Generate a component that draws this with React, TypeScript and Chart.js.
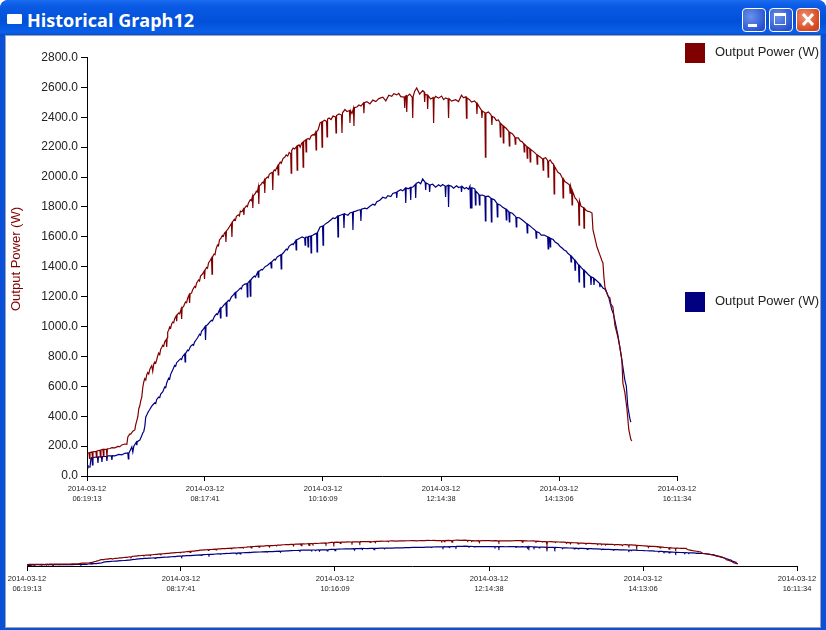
import React, { useEffect, useRef } from 'react';
import Chart from 'chart.js/auto';

const dateLabel = '2014-03-12';
const tickTimes = ['06:19:13', '08:17:41', '10:16:09', '12:14:38', '14:13:06', '16:11:34'];
const yTicks = [0, 200, 400, 600, 800, 1000, 1200, 1400, 1600, 1800, 2000, 2200, 2400, 2600, 2800];
const seriesName = 'Output Power (W)';

// [minutes since 06:19:13, watts]
const redSamples: number[][] = [
  [0, 152], [2, 156], [2.5, 118], [3, 157], [5, 160], [5.5, 122], [6, 162], [9, 165], [9.5, 126], [10, 167],
  [13, 172], [13.5, 128], [14, 174], [16, 178], [16.5, 134], [17, 178], [19.5, 180], [20, 125], [20.5, 182],
  [23, 184], [25, 190], [28, 188], [31, 198], [33, 196], [35, 208], [38, 214], [40, 212], [41, 261], [43, 282],
  [44, 280], [46, 300], [48, 308], [49, 345], [51, 395], [52, 450], [53, 470], [54, 505], [55, 528], [56, 592],
  [57, 629], [58, 652], [59, 642], [60, 678], [61, 692], [62, 682], [63, 712], [64, 728], [65, 738], [66, 700],
  [67, 748], [68, 763], [69, 756], [70, 778], [71, 805], [72, 822], [73, 812], [74, 848], [75, 860], [76, 875],
  [77, 868], [78, 898], [79.5, 912], [80, 863], [80.5, 925], [81, 963], [82, 975], [83, 997], [84, 990], [85, 1018],
  [86, 1030], [87, 1025], [88, 1052], [89.5, 1070], [90, 1035], [90.5, 1078], [92, 1090], [93, 1085], [94.5, 1118],
  [95, 1050], [95.5, 1125], [97, 1135], [98, 1152], [99, 1165], [100, 1160], [101, 1188], [102.5, 1212], [103, 1157],
  [103.5, 1218], [105, 1225], [106, 1244], [108, 1268], [109, 1262], [110, 1290], [112, 1312], [113, 1305], [114, 1338],
  [116, 1352], [117.5, 1370], [118, 1318], [118.5, 1376], [120, 1395], [121, 1390], [122, 1425], [123.5, 1440],
  [125, 1458], [125.5, 1351], [126, 1466], [127.5, 1485], [128.5, 1480], [129.5, 1518], [131, 1545], [132, 1540],
  [133, 1579], [134.5, 1592], [136, 1610], [137, 1605], [138, 1625], [139, 1632], [139.5, 1565], [140, 1640],
  [141.5, 1652], [143, 1668], [145, 1690], [145.5, 1599], [146, 1700], [148, 1718], [149, 1712], [150, 1738],
  [152, 1748], [153, 1740], [154, 1772], [155.5, 1768], [157, 1785], [157.5, 1746], [158, 1790], [160, 1808], [161, 1802],
  [162, 1825], [164, 1848], [165, 1842], [166, 1868], [166.5, 1793], [167, 1875], [169, 1890], [170, 1905], [171, 1900],
  [172, 1933], [172.5, 1820], [173, 1940], [175, 1952], [176, 1965], [177, 1960], [178, 1978], [178.5, 1893], [179, 1985],
  [181, 2000], [182, 1995], [183, 2018], [185, 2028], [186, 2030], [186.5, 1913], [187, 2036], [188, 2048], [189, 2042],
  [191.5, 2075], [192, 2014], [192.5, 2082], [194, 2100], [195, 2092], [197, 2127], [198.5, 2132], [200, 2148], [201.5, 2140],
  [203, 2165], [204.5, 2158], [205, 2027], [205.5, 2178], [207, 2194], [208.5, 2188], [210.5, 2205], [211, 2047], [211.5, 2210],
  [213, 2215], [214, 2200], [215.5, 2226], [216.5, 2232], [217, 2067], [217.5, 2238], [219.5, 2248], [220, 2168], [220.5, 2252],
  [222, 2258], [223.5, 2252], [225, 2275], [227, 2285], [228, 2280], [229.5, 2300], [230, 2181], [230.5, 2304], [232, 2315],
  [234, 2362], [235.5, 2368], [236, 2201], [236.5, 2372], [238.5, 2380], [240.5, 2372], [241, 2268], [241.5, 2388], [243, 2395],
  [245, 2385], [247, 2408], [249.5, 2402], [250, 2295], [250.5, 2412], [253, 2422], [255.5, 2415], [256, 2295], [256.5, 2430],
  [259, 2452], [261, 2438], [263.5, 2445], [264, 2362], [264.5, 2445], [266, 2425], [267.5, 2460], [268, 2342], [268.5, 2465],
  [271, 2469], [273, 2482], [275, 2475], [277.5, 2495], [278, 2428], [278.5, 2498], [281, 2505], [284, 2490], [287, 2515],
  [290, 2505], [293, 2525], [297, 2535], [300, 2510], [303, 2548], [306, 2540], [308, 2558], [311, 2550], [313, 2560], [315, 2538],
  [318.5, 2535], [319, 2462], [319.5, 2540], [320.5, 2545], [321, 2435], [321.5, 2540], [324, 2555], [326.5, 2535], [327, 2395],
  [327.5, 2540], [329, 2575], [331, 2596], [334, 2555], [337, 2578], [338.5, 2570], [339, 2502], [339.5, 2555], [341.5, 2548],
  [342, 2455], [342.5, 2545], [345, 2522], [347.5, 2532], [348, 2362], [348.5, 2525], [350, 2540], [353, 2528], [356, 2542],
  [358, 2518], [360, 2530], [362.5, 2522], [363, 2395], [363.5, 2525], [366, 2508], [370, 2518], [373, 2505], [376, 2548],
  [378, 2530], [380.5, 2538], [381, 2395], [381.5, 2530], [384, 2518], [386, 2502], [389, 2510], [391, 2495], [391.5, 2422],
  [392, 2490], [394, 2468], [396, 2448], [396.5, 2395], [397, 2442], [399.5, 2430], [400, 2134], [400.5, 2428], [403, 2435],
  [405, 2422], [406, 2410], [406.5, 2348], [407, 2405], [409, 2398], [411, 2378], [413, 2382], [414.5, 2365], [415, 2268],
  [415.5, 2358], [417.5, 2345], [418, 2228], [418.5, 2340], [421, 2325], [423.5, 2305], [424, 2208], [424.5, 2300], [427, 2290],
  [429.5, 2268], [430, 2221], [430.5, 2262], [433, 2262], [435, 2242], [437, 2236], [438.5, 2222], [439, 2168], [439.5, 2218],
  [441.5, 2205], [442, 2127], [442.5, 2200], [444.5, 2190], [445, 2101], [445.5, 2185], [448, 2172], [450, 2160], [451.5, 2150],
  [452, 2087], [452.5, 2146], [455, 2134], [457.5, 2120], [458, 2047], [458.5, 2125], [460.5, 2130], [462.5, 2110], [463, 2000],
  [463.5, 2105], [465, 2115], [467, 2094], [468.5, 2085], [469, 1887], [469.5, 2070], [471, 2052], [473, 2030], [475, 2022],
  [477.5, 1990], [478, 1860], [478.5, 1985], [480, 1968], [482, 1960], [484.5, 1947], [485, 1893], [485.5, 1940], [486.5, 1915],
  [487, 1813], [487.5, 1905], [490, 1860], [491.5, 1850], [493.5, 1825], [494, 1679], [494.5, 1840], [496, 1805], [498.5, 1795],
  [499, 1659], [499.5, 1790], [501, 1778], [503, 1770], [505, 1768], [507, 1759], [508, 1646], [510, 1590], [512, 1532], [515, 1478],
  [517, 1440], [518, 1425], [519, 1330], [520, 1264], [523, 1205], [525, 1191], [526, 1150], [528, 1131], [530, 1010], [533, 930],
  [535, 860], [537, 776], [538, 622], [540, 560], [542, 455], [544, 308], [546, 245], [547, 234],
];

const blueSamples: number[][] = [
  [0, 74], [1, 62], [3, 60], [4, 120], [5, 124], [5.5, 74], [6, 124], [10.5, 128], [11, 87], [11.5, 128], [14.5, 130],
  [15, 94], [15.5, 130], [19.5, 132], [20, 100], [20.5, 134], [24.5, 134], [25, 107], [25.5, 136], [28, 135], [32, 144], [35, 142],
  [38, 152], [41, 154], [41.5, 114], [42, 152], [45, 194], [46, 160], [47, 200], [49.5, 227], [50, 207], [50.5, 230], [53, 240],
  [54.5, 262], [56, 288], [57, 298], [58, 330], [59, 395], [60, 408], [61.5, 430], [63, 445], [64.5, 462], [66, 475], [68, 490],
  [69, 485], [70, 512], [72, 528], [73, 524], [74, 548], [76, 562], [78, 595], [79, 590], [80, 622], [82, 655], [83, 650], [84, 680],
  [86, 709], [88, 740], [89, 735], [90, 758], [92, 772], [94, 785], [95, 780], [96, 800], [98, 816], [98.5, 763], [99, 820], [101, 842],
  [102, 838], [104, 868], [106, 880], [107, 875], [108, 896], [110, 915], [111, 925], [113, 948], [114, 942], [115, 968], [117, 985],
  [118.5, 1000], [119, 910], [119.5, 1005], [121, 1012], [123, 1028], [125, 1042], [126, 1038], [128, 1068], [130, 1085], [131, 1080],
  [133.5, 1118], [134, 1057], [134.5, 1122], [136, 1131], [138, 1148], [139.5, 1158], [140, 1070], [140.5, 1162], [142, 1175], [143, 1170],
  [145, 1198], [147, 1212], [148.5, 1225], [149, 1191], [149.5, 1228], [152, 1244], [154, 1258], [155, 1252], [156, 1272], [158, 1282],
  [160.5, 1288], [161, 1198], [161.5, 1292], [163.5, 1308], [164, 1204], [164.5, 1310], [166, 1325], [168, 1338], [169, 1332], [171.5, 1365],
  [172, 1331], [172.5, 1368], [175, 1382], [176, 1378], [179, 1402], [181, 1408], [184.5, 1428], [185, 1392], [185.5, 1432], [188, 1450],
  [189, 1445], [191, 1465], [194.5, 1480], [195, 1385], [195.5, 1482], [197, 1492], [200, 1518], [201, 1512], [203, 1538], [206, 1552],
  [207, 1548], [209.5, 1575], [210, 1512], [210.5, 1580], [214, 1592], [216, 1600], [218.5, 1592], [219, 1545], [219.5, 1598], [221.5, 1600],
  [222, 1532], [222.5, 1602], [224.5, 1605], [225, 1492], [225.5, 1608], [227, 1612], [229, 1620], [230.5, 1625], [231, 1499], [231.5, 1630],
  [234, 1666], [236.5, 1672], [237, 1545], [237.5, 1675], [240, 1690], [242, 1698], [245, 1715], [247, 1726], [249, 1722], [251.5, 1738],
  [252, 1599], [252.5, 1740], [255, 1746], [257.5, 1752], [258, 1659], [258.5, 1755], [260, 1750], [262, 1745], [264, 1760], [266.5, 1765],
  [267, 1646], [267.5, 1768], [270, 1772], [272, 1778], [274.5, 1782], [275, 1706], [275.5, 1785], [279, 1792], [281, 1788], [284, 1805],
  [287, 1818], [289, 1812], [291, 1835], [294, 1845], [297, 1865], [300, 1858], [302, 1876], [305, 1870], [307, 1890], [310.5, 1898],
  [311, 1860], [311.5, 1902], [315, 1915], [317, 1908], [319.5, 1925], [320, 1826], [320.5, 1928], [322.5, 1922], [324.5, 1930], [325, 1846],
  [325.5, 1932], [327, 1933], [329.5, 1950], [330, 1860], [330.5, 1958], [333, 1965], [335, 1955], [337, 1987], [339.5, 1965], [340, 1913],
  [340.5, 1960], [343.5, 1950], [344, 1900], [344.5, 1947], [347, 1952], [350, 1932], [353, 1948], [355, 1938], [357, 1950], [359.5, 1940],
  [360, 1867], [360.5, 1938], [362.5, 1945], [363, 1800], [363.5, 1945], [366, 1938], [368, 1925], [371, 1942], [373, 1930], [375.5, 1935],
  [376, 1900], [376.5, 1938], [379, 1922], [381, 1930], [383, 1918], [384.5, 1940], [385, 1793], [385.5, 1930], [386, 1793], [386.5, 1928],
  [388, 1925], [389.5, 1920], [390, 1813], [390.5, 1905], [393, 1887], [393.5, 1880], [394, 1813], [394.5, 1878], [397, 1880], [399.5, 1872],
  [400, 1706], [400.5, 1870], [403, 1872], [405, 1862], [405.5, 1860], [406, 1700], [406.5, 1855], [409, 1848], [411.5, 1825], [412, 1733],
  [412.5, 1820], [415, 1812], [417, 1800], [420.5, 1785], [421, 1713], [421.5, 1782], [423.5, 1768], [424, 1700], [424.5, 1764], [427, 1758],
  [430.5, 1735], [431, 1666], [431.5, 1730], [434, 1728], [436, 1718], [438, 1708], [441.5, 1688], [442, 1626], [442.5, 1685], [445, 1672],
  [447, 1660], [450.5, 1640], [451, 1592], [451.5, 1635], [454, 1628], [456, 1612], [459, 1612], [462.5, 1600], [463, 1519], [463.5, 1598],
  [464.5, 1595], [465, 1532], [465.5, 1590], [468, 1582], [470, 1565], [473, 1552], [475, 1535], [477, 1525], [479, 1512], [481, 1505],
  [483, 1488], [485.5, 1475], [486, 1432], [486.5, 1470], [488, 1458], [489.5, 1445], [490, 1378], [490.5, 1440], [493.5, 1412], [494, 1298],
  [494.5, 1408], [496.5, 1392], [498.5, 1378], [499, 1264], [499.5, 1375], [503, 1350], [505.5, 1335], [506, 1278], [506.5, 1332], [508.5, 1325],
  [509, 1278], [509.5, 1320], [512, 1305], [514.5, 1290], [515, 1264], [515.5, 1282], [518, 1258], [520, 1250], [522, 1224], [524, 1190],
  [525.5, 1150], [527, 1111], [528.5, 1085], [530, 1040], [533, 943], [535, 860], [537, 776], [540, 642], [541.5, 600], [543, 462], [545, 385],
  [546, 361],
];

const toMinutes = (clock: string) => {
  const [h, m, s] = clock.split(':').map(Number);
  return h * 60 + m + s / 60;
};
const tickMinutes = tickTimes.map(t => toMinutes(t) - toMinutes(tickTimes[0]));
const toPoints = (samples: number[][]) => samples.map(([x, y]) => ({ x, y }));

const uiFont = '"Liberation Sans", Arial, sans-serif';

const xAxis = (height: number) => ({
  type: 'linear' as const,
  min: tickMinutes[0],
  max: tickMinutes[tickMinutes.length - 1],
  grid: { drawOnChartArea: false, drawTicks: true, tickLength: 5, color: '#000' },
  border: { color: '#000', width: 1 },
  ticks: {
    autoSkip: false,
    maxRotation: 0,
    padding: 3,
    color: '#222',
    font: { family: uiFont, size: 7.5, lineHeight: 1.35 },
    callback: (_: unknown, index: number) => [dateLabel, tickTimes[index]],
  },
  afterBuildTicks: (axis: any) => {
    axis.ticks = tickMinutes.map(value => ({ value }));
  },
  afterFit: (axis: any) => {
    axis.height = height;
    axis.paddingLeft = 0;
    axis.paddingRight = 0;
  },
});

const datasets = (width: number) => [
  { data: toPoints(redSamples), borderColor: '#800000', borderWidth: width, pointRadius: 0, tension: 0 },
  { data: toPoints(blueSamples), borderColor: '#000080', borderWidth: width, pointRadius: 0, tension: 0 },
];

const TitleButton = ({ left, close, children }: { left: number; close?: boolean; children: React.ReactNode }) => (
  <div
    style={{
      position: 'absolute', left, top: 8, width: 22, height: 22, borderRadius: 4, border: '1px solid #fff',
      background: close
        ? 'radial-gradient(circle at 35% 35%, #ee9070, #d4461c 75%)'
        : 'radial-gradient(circle at 35% 35%, #6a92ea, #2450d0 80%)',
    }}
  >
    {children}
  </div>
);

const LegendEntry = ({ top, color }: { top: number; color: string }) => (
  <>
    <div style={{ position: 'absolute', left: 685, top, width: 20, height: 20, background: color }} />
    <div
      style={{
        position: 'absolute', left: 715, top: top + 1, lineHeight: '16px', fontFamily: uiFont, fontSize: 13,
        color: '#222', whiteSpace: 'nowrap',
      }}
    >
      {seriesName}
    </div>
  </>
);

const App: React.FC = () => {
  const mainRef = useRef<HTMLCanvasElement>(null);
  const overviewRef = useRef<HTMLCanvasElement>(null);

  useEffect(() => {
    if (!mainRef.current || !overviewRef.current) return;

    const main = new Chart(mainRef.current, {
      type: 'line',
      data: { datasets: datasets(1.2) as any },
      options: {
        animation: false,
        responsive: false,
        devicePixelRatio: 1,
        layout: { padding: { top: 21.5, right: 29, left: 0, bottom: 0 } },
        plugins: { legend: { display: false }, tooltip: { enabled: false } },
        scales: {
          x: xAxis(34) as any,
          y: {
            min: 0,
            max: 2800,
            grid: { drawOnChartArea: false, drawTicks: true, tickLength: 6, color: '#000' },
            border: { color: '#000', width: 1 },
            ticks: {
              color: '#222',
              padding: 3,
              autoSkip: false,
              font: { family: uiFont, size: 12 },
              callback: (value: any) => Number(value).toFixed(1),
            },
            afterBuildTicks: (axis: any) => {
              axis.ticks = yTicks.map(value => ({ value }));
            },
            afterFit: (axis: any) => {
              axis.width = 81;
              axis.paddingTop = 0;
              axis.paddingBottom = 0;
            },
          } as any,
        },
      },
    });

    const overview = new Chart(overviewRef.current, {
      type: 'line',
      data: { datasets: datasets(1.2) as any },
      options: {
        animation: false,
        responsive: false,
        devicePixelRatio: 1,
        layout: { padding: { top: 18, left: 21, right: 23, bottom: 0 } },
        plugins: { legend: { display: false }, tooltip: { enabled: false } },
        scales: {
          x: xAxis(54) as any,
          y: { display: false, min: 0, max: 2800 },
        },
      },
    });

    return () => {
      main.destroy();
      overview.destroy();
    };
  }, []);

  return (
    <div
      style={{
        position: 'absolute', left: 0, top: 0, width: 826, height: 630, overflow: 'hidden',
        background: '#0a50d8', borderRadius: '8px 8px 0 0',
      }}
    >
      {/* title bar */}
      <div
        style={{
          position: 'absolute', left: 0, top: 0, width: 826, height: 36, borderRadius: '8px 8px 0 0',
          background: 'linear-gradient(#1a6cf0 0%, #0a5ae4 18%, #0250d8 60%, #0a60e8 90%, #0448c8 100%)',
        }}
      />
      <div style={{ position: 'absolute', left: 7, top: 14, width: 15, height: 10, background: '#fff', borderRadius: 1 }} />
      <div
        style={{
          position: 'absolute', left: 27, top: 7, lineHeight: '26px', color: '#fff', fontSize: 18, fontWeight: 700,
          fontFamily: '"Open Sans", sans-serif', whiteSpace: 'nowrap',
        }}
      >
        Historical Graph12
      </div>
      <TitleButton left={742}>
        <div style={{ position: 'absolute', left: 5, top: 15, width: 9, height: 3, background: '#fff' }} />
      </TitleButton>
      <TitleButton left={769}>
        <div style={{ position: 'absolute', left: 4, top: 4, width: 12, height: 12, border: '1px solid #fff', borderTopWidth: 3, boxSizing: 'border-box' }} />
      </TitleButton>
      <TitleButton left={796} close>
        <svg width={22} height={22} style={{ position: 'absolute', left: 0, top: 0 }}>
          <path d="M6 5 L16 16 M16 5 L6 16" stroke="#fff" strokeWidth={3} />
        </svg>
      </TitleButton>

      {/* client area */}
      <div
        style={{
          position: 'absolute', left: 5, top: 35, width: 816, height: 593, background: '#fff',
          border: '1px solid #9aa4b8', boxSizing: 'border-box',
        }}
      />
      <canvas ref={mainRef} width={700} height={474} style={{ position: 'absolute', left: 6, top: 36, width: 700, height: 474 }} />
      <canvas ref={overviewRef} width={814} height={100} style={{ position: 'absolute', left: 6, top: 520, width: 814, height: 100 }} />
      <div
        style={{
          position: 'absolute', left: 8, top: 207, writingMode: 'vertical-rl', transform: 'rotate(180deg)',
          fontFamily: uiFont, fontSize: 13, lineHeight: '16px', color: '#800000', whiteSpace: 'nowrap',
        }}
      >
        {seriesName}
      </div>
      <LegendEntry top={43} color="#800000" />
      <LegendEntry top={292} color="#000080" />
    </div>
  );
};

export default App;
